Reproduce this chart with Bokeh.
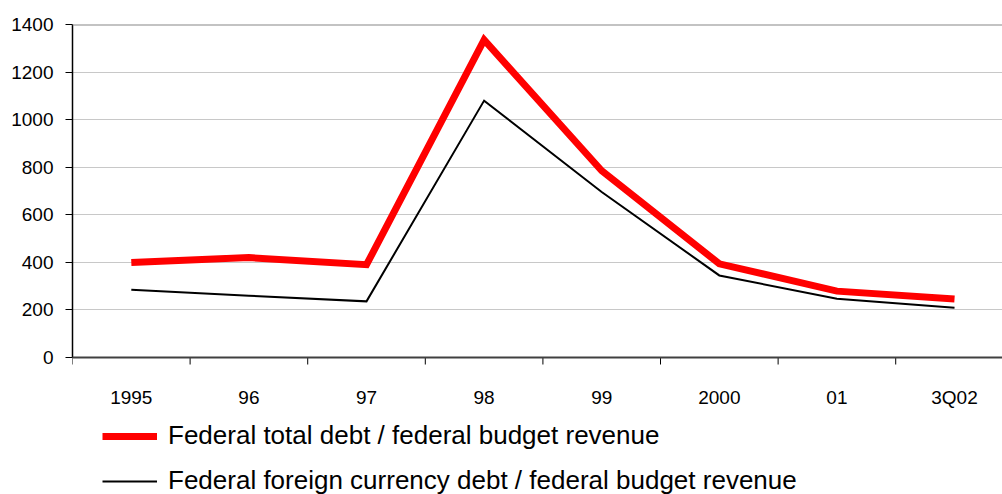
from bokeh.plotting import figure
from bokeh.models import Range1d, FixedTicker, Span, Legend, LegendItem, ColumnDataSource
from bokeh.embed import file_html
from bokeh.resources import INLINE

categories = ["1995", "96", "97", "98", "99", "2000", "01", "3Q02"]
total_debt = [399, 420, 390, 1335, 785, 394, 279, 246]
fx_debt = [285, 260, 236, 1080, 696, 345, 247, 209]
y_ticks = [0, 200, 400, 600, 800, 1000, 1200, 1400]

FONT = "Liberation Sans"

xs = [i + 0.5 for i in range(len(categories))]
bounds_x = list(range(len(categories)))
src = ColumnDataSource(dict(x=xs, total=total_debt, fx=fx_debt, label=categories))

# frame spans 24..494 px; 1400 units occupy 333 px, the rest is room for the category axis and legend
Y_TOP = 1400
PX_PER_UNIT = 333 / 1400
Y_BOTTOM = -(494 - 357) / PX_PER_UNIT

p = figure(width=1002, height=494, output_backend="svg", toolbar_location=None,
           x_range=Range1d(0, 7.908), y_range=Range1d(Y_BOTTOM, Y_TOP),
           x_axis_location=None,
           min_border_left=72, min_border_right=0, min_border_top=24, min_border_bottom=0,
           background_fill_color="white", border_fill_color="white")
p.outline_line_color = None

# grid
p.xgrid.grid_line_color = None
p.ygrid.ticker = FixedTicker(ticks=y_ticks)
p.ygrid.grid_line_color = "#c8c8c8"
p.ygrid.grid_line_width = 1

# y axis
ya = p.yaxis[0]
ya.ticker = FixedTicker(ticks=y_ticks)
ya.bounds = (0, 1400)
ya.axis_line_color = "black"
ya.axis_line_width = 1.5
ya.major_tick_line_color = "black"
ya.major_tick_out = 7
ya.major_tick_in = 0
ya.minor_tick_line_color = None
ya.major_label_standoff = 12
ya.major_label_text_font = FONT
ya.major_label_text_font_size = "19px"
ya.major_label_text_color = "black"

# category axis drawn inside the frame
tick_len = 7 / PX_PER_UNIT
p.segment(x0=bounds_x, y0=[0] * len(bounds_x), x1=bounds_x, y1=[-tick_len] * len(bounds_x),
          line_color="black", line_width=1)
p.text(x="x", y=0, text="label", source=src, y_offset=40,
       text_align="center", text_baseline="alphabetic", text_font={"value": FONT},
       text_font_size="19px", text_color="black")

r1 = p.line("x", "total", source=src, line_color="#ff0000", line_width=7, line_join="miter")
r2 = p.line("x", "fx", source=src, line_color="black", line_width=2, line_join="miter")

# top border and x axis line
p.add_layout(Span(location=1400, dimension="width", line_color="#888888", line_width=2))
p.add_layout(Span(location=0, dimension="width", line_color="#404040", line_width=2))

legend = Legend(items=[
    LegendItem(label="Federal total debt / federal budget revenue", renderers=[r1]),
    LegendItem(label="Federal foreign currency debt / federal budget revenue", renderers=[r2]),
], location=(30, -2), orientation="vertical")
legend.label_text_font = FONT
legend.label_text_font_size = "26px"
legend.label_text_color = "black"
legend.glyph_width = 55
legend.glyph_height = 30
legend.label_height = 30
legend.spacing = 14
legend.label_standoff = 11
legend.padding = 0
legend.margin = 0
legend.border_line_color = None
legend.background_fill_alpha = 0
p.add_layout(legend, "center")

open("out.html", "w").write(file_html(p, INLINE))
